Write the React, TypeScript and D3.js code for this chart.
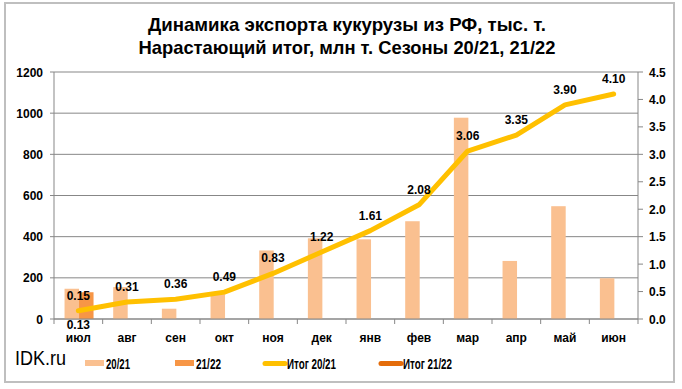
import React from "react";
import * as d3 from "d3";

const months = ["июл", "авг", "сен", "окт", "ноя", "дек", "янв", "фев", "мар", "апр", "май", "июн"];
const exp2021 = [147, 155, 50, 130, 333, 392, 387, 475, 978, 282, 548, 198];
const exp2122 = [130, null, null, null, null, null, null, null, null, null, null, null];
const total2021 = [0.15, 0.31, 0.36, 0.49, 0.83, 1.22, 1.61, 2.08, 3.06, 3.35, 3.9, 4.1];
const total2122 = [0.13, null, null, null, null, null, null, null, null, null, null, null];
const leftTicks = [0, 200, 400, 600, 800, 1000, 1200];
const rightTicks = [0, 0.5, 1, 1.5, 2, 2.5, 3, 3.5, 4, 4.5];
const titleLines = ["Динамика экспорта кукурузы из РФ, тыс. т.", "Нарастающий итог, млн т. Сезоны 20/21, 21/22"];
const titleWidths = [398, 417];
const legendItems = [
  { label: "20/21", kind: "bar", color: "#FAC090", x: 85, w: 24 },
  { label: "21/22", kind: "bar", color: "#F79646", x: 175, w: 25 },
  { label: "Итог 20/21", kind: "line", color: "#FFC000", x: 263, w: 49 },
  { label: "Итог 21/22", kind: "line", color: "#E46C0A", x: 379, w: 49 },
];

const W = 682, H = 389;
const L = 54, R = 638, T = 72, B = 319;
const FONT = "'Liberation Sans', Arial, sans-serif";

export default function App() {
  const x = d3.scaleBand<string>().domain(months).range([L, R]).padding(0);
  const bw = x.bandwidth();
  const barW = 14.5;
  const yL = d3.scaleLinear().domain([0, 1200]).range([B, T]);
  const yR = d3.scaleLinear().domain([0, 4.5]).range([B, T]);
  const cx = (m: string) => (x(m) as number) + bw / 2;

  const line = d3
    .line<number | null>()
    .defined((d) => d != null)
    .x((_, i) => cx(months[i]))
    .y((d) => yR(d as number));

  const count2122 = total2122.filter((d) => d != null).length;

  return (
    <svg width={W} height={H} style={{ position: "absolute", left: 0, top: 0 }} fontFamily={FONT}>
      <rect x={0} y={0} width={W} height={H} fill="#fff" />
      <rect x={5} y={3} width={669} height={379} fill="#fff" stroke="#BFBFBF" strokeWidth={2} />
      {titleLines.map((t, i) => (
        <text key={i} x={347} y={31 + i * 23} textAnchor="middle" fontSize={18.4} fontWeight="bold" fill="#000"
          textLength={titleWidths[i]} lengthAdjust="spacingAndGlyphs">
          {t}
        </text>
      ))}
      {leftTicks.map((t) => (
        <line key={t} x1={L} x2={R} y1={yL(t)} y2={yL(t)} stroke="#878787" strokeWidth={1} />
      ))}
      <line x1={L} x2={L} y1={T} y2={B} stroke="#878787" />
      <line x1={R} x2={R} y1={T} y2={B} stroke="#878787" />
      {leftTicks.map((t) => (
        <g key={"l" + t}>
          <line x1={L - 4} x2={L} y1={yL(t)} y2={yL(t)} stroke="#878787" />
          <text x={43} y={yL(t) + 4.5} textAnchor="end" fontSize={12} fontWeight="bold">
            {t}
          </text>
        </g>
      ))}
      {rightTicks.map((t) => (
        <g key={"r" + t}>
          <line x1={R} x2={R + 5} y1={yR(t)} y2={yR(t)} stroke="#878787" />
          <text x={649} y={yR(t) + 4.5} textAnchor="start" fontSize={12} fontWeight="bold">
            {t.toFixed(1)}
          </text>
        </g>
      ))}
      {months.map((m, i) => (
        <line key={"xt" + i} x1={x(m) as number} x2={x(m) as number} y1={B} y2={B + 5} stroke="#878787" />
      ))}
      <line x1={R} x2={R} y1={B} y2={B + 5} stroke="#878787" />
      {months.map((m, i) => (
        <g key={"b" + m}>
          {exp2021[i] != null && (
            <rect x={cx(m) + 0.7 - barW} y={yL(exp2021[i] as number)} width={barW} height={B - yL(exp2021[i] as number)} fill="#FAC090" />
          )}
          {exp2122[i] != null && (
            <rect x={cx(m) + 0.7} y={yL(exp2122[i] as number)} width={barW} height={B - yL(exp2122[i] as number)} fill="#F79646" />
          )}
        </g>
      ))}
      <line x1={L} x2={R} y1={B} y2={B} stroke="#878787" />
      <path d={line(total2021) || ""} fill="none" stroke="#FFC000" strokeWidth={5} strokeLinejoin="round" strokeLinecap="round" />
      {count2122 > 1 && (
        <path d={line(total2122) || ""} fill="none" stroke="#E46C0A" strokeWidth={5} strokeLinejoin="round" strokeLinecap="round" />
      )}
      {total2021.map((v, i) => (
        <text key={"t1" + i} x={cx(months[i])} y={yR(v) - 11} textAnchor="middle" fontSize={12} fontWeight="bold">
          {v.toFixed(2)}
        </text>
      ))}
      {total2122.map((v, i) =>
        v == null ? null : (
          <text key={"t2" + i} x={cx(months[i])} y={yR(v) + 17.5} textAnchor="middle" fontSize={12} fontWeight="bold">
            {v.toFixed(2)}
          </text>
        )
      )}
      {months.map((m) => (
        <text key={"c" + m} x={cx(m)} y={341.5} textAnchor="middle" fontSize={12} fontWeight="bold">
          {m}
        </text>
      ))}
      <text x={15} y={365} fontSize={20.5} fill="#000" textLength={51} lengthAdjust="spacingAndGlyphs">IDK.ru</text>
      {legendItems.map((it) => (
        <g key={it.label}>
          {it.kind === "bar" ? (
            <rect x={it.x} y={360} width={19} height={6} fill={it.color} />
          ) : (
            <line x1={it.x + 2} x2={it.x + 22} y1={363.5} y2={363.5} stroke={it.color} strokeWidth={5} strokeLinecap="round" />
          )}
          <text x={it.x + (it.kind === "bar" ? 21 : 24)} y={368.5} fontSize={14} fontWeight="bold"
            textLength={it.w} lengthAdjust="spacingAndGlyphs">
            {it.label}
          </text>
        </g>
      ))}
    </svg>
  );
}
